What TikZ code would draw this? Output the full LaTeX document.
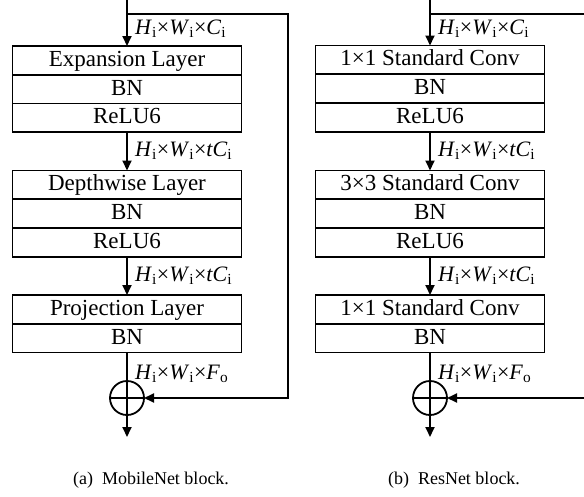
\documentclass[tikz,border=0pt]{standalone}
\usepackage{fontspec}
\setmainfont{Liberation Serif}
\usetikzlibrary{arrows.meta}
\newcommand\dimlabel[1]{\textit{H}\textsubscript{i}×\textit{W}\textsubscript{i}×#1}
\tikzset{
  layer/.style={draw, line width=1.8pt, minimum width=229pt, minimum height=28.7pt, inner sep=0pt, outer sep=0pt, text height=16pt, text depth=4pt, anchor=north, font=\fontsize{23}{23}\selectfont},
  conn/.style={line width=1.8pt},
  arr/.style={conn, -{Triangle[length=10pt,width=9pt]}},
  dim/.style={anchor=west, inner sep=0pt, font=\fontsize{22}{22}\selectfont},
  sumnode/.style={draw, circle, line width=1.8pt, minimum size=34pt, inner sep=0pt, outer sep=0pt},
  captext/.style={font=\fontsize{18}{18}\selectfont}
}
\begin{document}
\begin{tikzpicture}[x=1pt,y=-1pt]
\useasboundingbox (0,0) rectangle (584,496);
% ---------- (a) MobileNet ----------
\node[layer] (a1) at (127,46) {Expansion Layer};
\node[layer] (a2) at (a1.south) {BN};
\node[layer] (a3) at (a2.south) {ReLU6};
\node[layer] (a4) at (127,170.5) {Depthwise Layer};
\node[layer] (a5) at (a4.south) {BN};
\node[layer] (a6) at (a5.south) {ReLU6};
\node[layer] (a7) at (127,295) {Projection Layer};
\node[layer] (a8) at (a7.south) {BN};
\node[sumnode] (sa) at (127,398) {};
\draw[conn] (sa.north) -- (sa.south) (sa.west) -- (sa.east);
\coordinate (ina) at (127,0);
\coordinate (bra) at (127,14);
\coordinate (cra) at (288,14);
\coordinate (outa) at (127,437);
\draw[arr] (ina) -- (a1.north);
\draw[arr] (bra) -- (cra) |- (sa.east);
\draw[arr] (a3.south) -- (a4.north);
\draw[arr] (a6.south) -- (a7.north);
\draw[conn] (a8.south) -- (sa.north);
\draw[arr] (sa.south) -- (outa);
\node[dim] (la1) at (135,29) {\dimlabel{\textit{C}\textsubscript{i}}};
\node[dim] (la2) at (135,151) {\dimlabel{\textit{tC}\textsubscript{i}}};
\node[dim] (la3) at (135,276) {\dimlabel{\textit{tC}\textsubscript{i}}};
\node[dim] (la4) at (135,374) {\dimlabel{\textit{F}\textsubscript{o}}};
\node[captext] (capa) at (151,480) {(a)\ \ MobileNet block.};
% ---------- (b) ResNet ----------
\node[layer] (b1) at (430,45.5) {1×1 Standard Conv};
\node[layer] (b2) at (b1.south) {BN};
\node[layer] (b3) at (b2.south) {ReLU6};
\node[layer] (b4) at (430,170.5) {3×3 Standard Conv};
\node[layer] (b5) at (b4.south) {BN};
\node[layer] (b6) at (b5.south) {ReLU6};
\node[layer] (b7) at (430,295) {1×1 Standard Conv};
\node[layer] (b8) at (b7.south) {BN};
\node[sumnode] (sb) at (430,398) {};
\draw[conn] (sb.north) -- (sb.south) (sb.west) -- (sb.east);
\coordinate (inb) at (430,0);
\coordinate (brb) at (430,14);
\coordinate (crb) at (585,14);
\coordinate (fbb) at (585,398);
\coordinate (outb) at (430,437);
\draw[arr] (inb) -- (b1.north);
\draw[conn] (brb) -- (crb);
\draw[arr] (fbb) -- (sb.east);
\draw[arr] (b3.south) -- (b4.north);
\draw[arr] (b6.south) -- (b7.north);
\draw[conn] (b8.south) -- (sb.north);
\draw[arr] (sb.south) -- (outb);
\node[dim] (lb1) at (438,29) {\dimlabel{\textit{C}\textsubscript{i}}};
\node[dim] (lb2) at (438,151) {\dimlabel{\textit{tC}\textsubscript{i}}};
\node[dim] (lb3) at (438,276) {\dimlabel{\textit{tC}\textsubscript{i}}};
\node[dim] (lb4) at (438,374) {\dimlabel{\textit{F}\textsubscript{o}}};
\node[captext] (capb) at (454,480) {(b)\ \ ResNet block.};
\end{tikzpicture}
\end{document}
